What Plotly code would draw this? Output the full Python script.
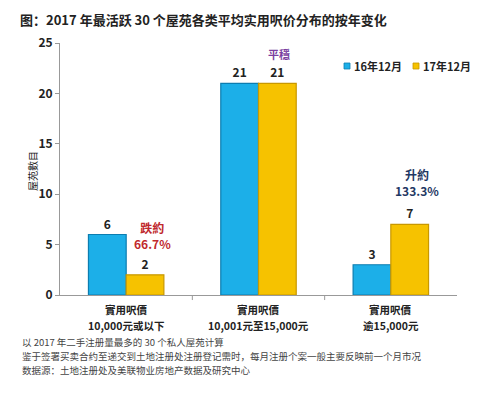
import plotly.graph_objects as go

categories = ["≤10,000", "10,001-15,000", ">15,000"]
category_line1 = ["實用呎價", "實用呎價", "實用呎價"]
category_line2 = ["10,000元或以下", "10,001元至15,000元", "逾15,000元"]
series_names = ["16年12月", "17年12月"]
values_2016 = [6, 21, 3]
values_2017 = [2, 21, 7]
y_ticks = [0, 5, 10, 15, 20, 25]
notes = ["以 2017 年二手注册量最多的 30 个私人屋苑计算",
         "鉴于签署买卖合约至递交到土地注册处注册登记需时，每月注册个案一般主要反映前一个月市况",
         "数据源：土地注册处及美联物业房地产数据及研究中心"]

FONT = "Noto Sans CJK SC"
OFF = 8                      # default page body margin
W, H = 500 - 2 * OFF, 399 - 2 * OFF
L, R, T, B = 60, 457, 43, 295  # plot area in page px
BLUE, YELLOW = "#1cafe8", "#f6c200"
BLUE_EDGE, YELLOW_EDGE = "#0c7db0", "#c89800"


def px_x(px):
    return (px - L) / (R - L)


def px_y(py):
    return (B - py) / (B - T)


def note(x, y, text, xanchor="center", **kw):
    fig.add_annotation(x=x, y=y, text=text, showarrow=False,
                       xanchor=xanchor, yanchor="middle", **kw)


fig = go.Figure()
fig.add_trace(go.Bar(
    name=series_names[0], x=categories, y=values_2016,
    marker=dict(color=BLUE, line=dict(color=BLUE_EDGE, width=1.2)),
    text=values_2016, textposition="outside", cliponaxis=False,
    textfont=dict(family=FONT, size=12, color="#222", weight="bold"),
))
fig.add_trace(go.Bar(
    name=series_names[1], x=categories, y=values_2017,
    marker=dict(color=YELLOW, line=dict(color=YELLOW_EDGE, width=1.2)),
    text=values_2017, textposition="outside", cliponaxis=False,
    textfont=dict(family=FONT, size=12, color="#222", weight="bold"),
))

fig.update_layout(
    width=W, height=H,
    margin=dict(l=L - OFF, r=(OFF + W) - R, t=T - OFF, b=(OFF + H) - B, autoexpand=False),
    paper_bgcolor="white", plot_bgcolor="white",
    barmode="group", bargap=0.43, bargroupgap=0,
    font=dict(family=FONT, size=11, color="#222"),
    showlegend=False,
    xaxis=dict(showline=True, linecolor="#999", linewidth=1, ticks="",
               showticklabels=False, showgrid=False, automargin=False),
    yaxis=dict(range=[0, 25], tickvals=y_ticks, showline=True, linecolor="#999",
               linewidth=1, ticks="outside", ticklen=4, tickcolor="#999",
               showgrid=False, zeroline=False, automargin=False,
               tickfont=dict(family=FONT, size=12, color="#222", weight="bold")),
    title=dict(text="<b>图：2017 年最活跃 30 个屋苑各类平均实用呎价分布的按年变化</b>",
               x=(20 - OFF) / W, xanchor="left", y=1 - (20 - OFF) / H, yanchor="middle",
               font=dict(family=FONT, size=13, color="#222")),
)

# y axis title
note(px_x(32), px_y(171), "屋苑數目", xref="paper", yref="paper", textangle=-90,
     font=dict(family=FONT, size=10, color="#222"))

# category separators
for xv in [0.5, 1.5]:
    fig.add_shape(type="line", xref="x", yref="paper", x0=xv, x1=xv, y0=0, y1=-0.02,
                  line=dict(color="#999", width=1))

# category labels (two lines, separate texts)
for i in range(len(categories)):
    note(i, px_y(309.5), f"<b>{category_line1[i]}</b>", xref="x", yref="paper",
         font=dict(family=FONT, size=10.5, color="#222"))
    note(i, px_y(325.5), f"<b>{category_line2[i]}</b>", xref="x", yref="paper",
         font=dict(family=FONT, size=10.5, color="#222"))

# manual legend
legend_items = [(347, BLUE, BLUE_EDGE, series_names[0]), (416, YELLOW, YELLOW_EDGE, series_names[1])]
for x0, col, edge, name in legend_items:
    fig.add_shape(type="rect", xref="paper", yref="paper",
                  x0=px_x(x0 - 3), x1=px_x(x0 + 3), y0=px_y(69), y1=px_y(63),
                  fillcolor=col, line=dict(color=edge, width=0.8))
    note(px_x(x0 + 5), px_y(66), f"<b>{name}</b>", xanchor="left", xref="paper", yref="paper",
         font=dict(family=FONT, size=11, color="#222"))

note(0.2, 5.95, "<b>跌約<br>66.7%</b>", xref="x", yref="y",
     font=dict(family=FONT, size=12, color="#c0282d"))
note(px_x(279), px_y(54), "<b>平穩</b>", xref="paper", yref="paper",
     font=dict(family=FONT, size=11, color="#7b3fa0"))
note(2.2, 11.15, "<b>升約<br>133.3%</b>", xref="x", yref="y",
     font=dict(family=FONT, size=12, color="#1f3864"))

for k, line in enumerate(notes):
    note(px_x(20), px_y(342 + 14 * k), line, xanchor="left", xref="paper", yref="paper",
         font=dict(family=FONT, size=9.5, color="#444"))

fig.write_html("out.html")
